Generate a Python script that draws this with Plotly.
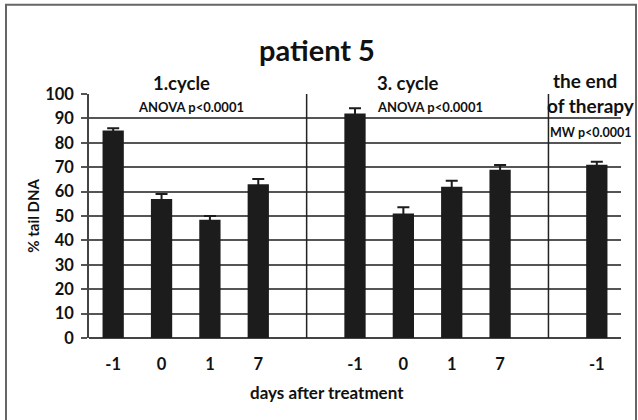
import plotly.graph_objects as go

categories = ["-1", "0", "1", "7", "", "-1", "0", "1", "7", "", "-1"]
values = [85, 57, 48.5, 63, None, 92, 51, 62, 69, None, 71]
errors = [1, 2, 1.5, 2.2, None, 2.2, 2.6, 2.4, 1.9, None, 1.2]
y_ticks = [0, 10, 20, 30, 40, 50, 60, 70, 80, 90, 100]

x_pos = list(range(len(categories)))
FONT = "Lato"

fig = go.Figure()
fig.add_trace(go.Bar(
    x=x_pos, y=values, width=0.44,
    marker=dict(color="#1c1c1c", line=dict(width=0)),
    error_y=dict(type="data", array=errors, visible=True, color="#1c1c1c",
                 thickness=2, width=6),
    showlegend=False,
))

W = 532.0
H = 244.0
def px(x):
    return (x - 89) / W
def py(y):
    return (338.3 - y) / H

ann = [
    dict(text="<b>patient 5</b>", x=px(317), y=py(50), size=29),
    dict(text="<b>1.cycle</b>", x=px(181), y=py(83), size=18.5),
    dict(text="<b>3. cycle</b>", x=px(408), y=py(83), size=18.5),
    dict(text="<b>the end</b>", x=px(585), y=py(81), size=19),
    dict(text="<b>of therapy</b>", x=px(591), y=py(106), size=19),
    dict(text="<b>MW p<0.0001</b>", x=px(590), y=py(133), size=12.5),
    dict(text="<b>ANOVA p<0.0001</b>", x=px(191), y=py(107), size=13),
    dict(text="<b>ANOVA p<0.0001</b>", x=px(430), y=py(107), size=13),
    dict(text="<b>days after treatment</b>", x=px(327), y=py(393), size=17),
]
annotations = []
for a in ann:
    annotations.append(dict(text=a["text"], x=a["x"], y=a["y"], xref="paper", yref="paper",
                            showarrow=False, xanchor="center", yanchor="middle",
                            font=dict(family=FONT, size=a["size"], color="#111")))
annotations.append(dict(text="<b>% tail DNA</b>", x=px(33), y=py(216), xref="paper", yref="paper",
                        showarrow=False, textangle=-90, xanchor="center", yanchor="middle",
                        font=dict(family=FONT, size=15, color="#111")))

shapes = [
    dict(type="rect", xref="paper", yref="paper", x0=px(6), x1=px(636), y0=py(430), y1=py(5),
         line=dict(color="#666", width=2), fillcolor="rgba(0,0,0,0)", layer="below"),
    dict(type="line", xref="x", yref="y", x0=4, x1=4, y0=0, y1=100, line=dict(color="#222", width=1.5)),
    dict(type="line", xref="x", yref="y", x0=9, x1=9, y0=0, y1=100, line=dict(color="#222", width=1.5)),
]

fig.update_layout(
    width=638, height=420,
    margin=dict(l=89, r=17, t=94, b=82),
    paper_bgcolor="white", plot_bgcolor="white",
    annotations=annotations,
    shapes=shapes,
    xaxis=dict(range=[-0.5, 10.5], tickmode="array", tickvals=x_pos,
               ticktext=["<b>%s</b>" % c for c in categories],
               showgrid=False, zeroline=False, showline=False, ticks="",
               tickfont=dict(family=FONT, size=16.5, color="#111"), ticklabelstandoff=14),
    yaxis=dict(range=[0, 100], tickmode="array", tickvals=y_ticks,
               ticktext=["<b>%d</b>" % v for v in y_ticks],
               showgrid=True, gridcolor="#555", gridwidth=1.6,
               zeroline=True, zerolinecolor="#444", zerolinewidth=2,
               showline=True, linecolor="#444", linewidth=1.5,
               ticks="outside", ticklen=6, tickcolor="#555", tickwidth=1.6,
               ticklabelstandoff=4,
               tickfont=dict(family=FONT, size=16.5, color="#111")),
)

fig.write_html("out.html", config={"displayModeBar": False},
               post_script="document.body.style.margin='0px';")
